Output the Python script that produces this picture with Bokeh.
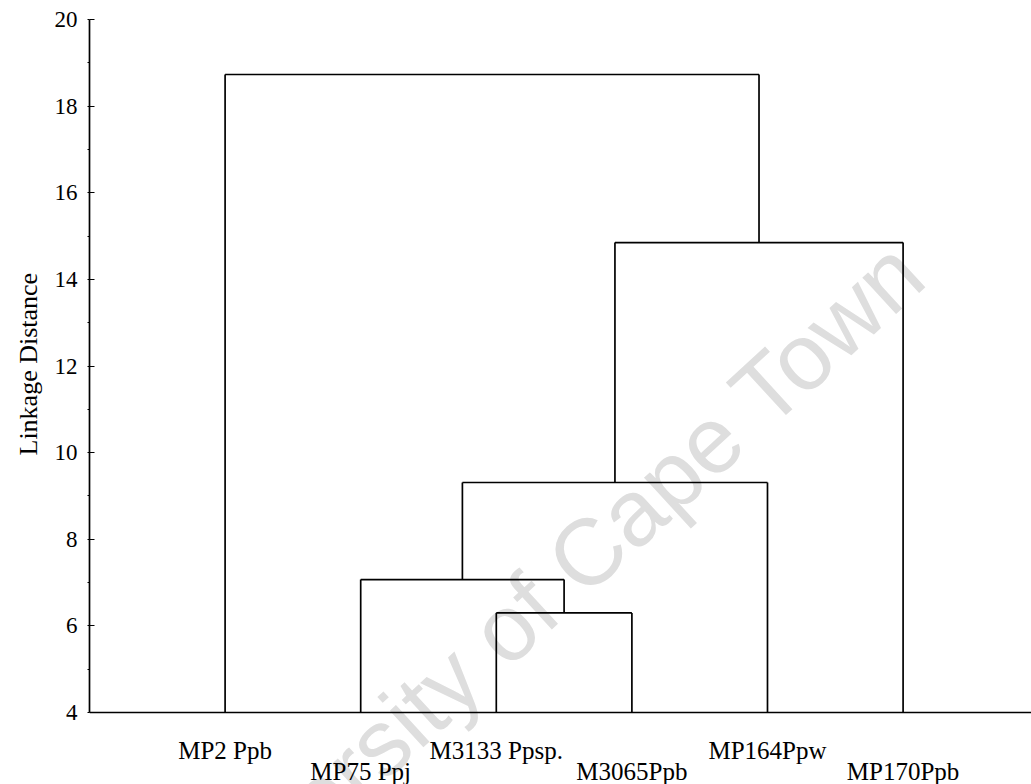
from bokeh.plotting import figure
from bokeh.models import SingleIntervalTicker, Range1d, Span, Title
from bokeh.core.properties import value
from bokeh.embed import file_html
from bokeh.resources import INLINE
import math

# ---- data ----
leaf_labels = ["MP2 Ppb", "MP75 Ppj", "M3133 Ppsp.", "M3065Ppb", "MP164Ppw", "MP170Ppb"]
merge_left = [2, 1, 7, 8, 0]
merge_right = [3, 6, 4, 5, 9]
merge_height = [6.3, 7.07, 9.31, 14.85, 18.73]
y_ticks = [4, 6, 8, 10, 12, 14, 16, 18, 20]
y_title = "Linkage Distance"
watermark = "University of Cape Town"

base = 4.0
W, H = 1031, 784
top_b = 19
axis_px_y = 712
px_per_y = (axis_px_y - top_b) / (y_ticks[-1] - y_ticks[0])
y_lo = base - (H - axis_px_y) / px_per_y

p = figure(width=W, height=H, output_backend="svg", toolbar_location=None,
           x_range=Range1d(0, 6.947), y_range=Range1d(y_lo, y_ticks[-1]),
           min_border_left=89, min_border_right=0, min_border_top=top_b,
           min_border_bottom=0)
p.outline_line_color = None
p.grid.visible = False
p.xaxis.visible = False
p.background_fill_color = "white"
p.border_fill_color = "white"

# watermark (drawn first, light grey, under the tree)
p.text(x=[3.289], y=[6.586], text=[watermark], angle=math.radians(42.5),
       text_font=value("Liberation Sans"), text_font_size="94px",
       text_color="#dedede", text_align="center", text_baseline="alphabetic")

# dendrogram geometry
n = len(leaf_labels)
pos = {i: i + 1.0 for i in range(n)}
hgt = {i: base for i in range(n)}
x0, y0, x1, y1 = [], [], [], []
for k, (l, r, h) in enumerate(zip(merge_left, merge_right, merge_height)):
    for c in (l, r):
        x0.append(pos[c]); y0.append(hgt[c]); x1.append(pos[c]); y1.append(h)
    x0.append(pos[l]); y0.append(h); x1.append(pos[r]); y1.append(h)
    pos[n + k] = (pos[l] + pos[r]) / 2.0
    hgt[n + k] = h

p.segment(x0=x0, y0=y0, x1=x1, y1=y1, line_color="black", line_width=1.7)

# baseline (category axis line)
p.add_layout(Span(location=base, dimension="width", line_color="black", line_width=1.7))

# leaf labels, staggered on two rows under the baseline
lx = [pos[i] for i in range(n)]
ly = [base - (38 if i % 2 == 0 else 59) / px_per_y for i in range(n)]
p.text(x=lx, y=ly, text=leaf_labels, text_font=value("Liberation Serif"),
       text_font_size="25px", text_color="black", text_align="center",
       text_baseline="alphabetic")

ya = p.yaxis[0]
ya.ticker = SingleIntervalTicker(interval=2, num_minor_ticks=2)
ya.bounds = (y_ticks[0], y_ticks[-1])
ya.axis_line_color = "black"
ya.axis_line_width = 1.7
ya.major_tick_in = 5
ya.major_tick_out = 0
ya.minor_tick_in = 0
ya.minor_tick_out = 2
ya.major_tick_line_color = "black"
ya.minor_tick_line_color = "black"
ya.major_label_text_font = "Liberation Serif"
ya.major_label_text_font_size = "23px"
ya.major_label_text_color = "black"
ya.major_label_standoff = 10

# axis title, centred on the 4..20 span of the axis
ttl = Title(text=y_title, align="left", vertical_align="top", offset=H - 455,
            standoff=14, text_font="Liberation Serif", text_font_size="26px",
            text_font_style="normal", text_color="black")
p.add_layout(ttl, "left")

open("out.html", "w").write(file_html(p, INLINE))
